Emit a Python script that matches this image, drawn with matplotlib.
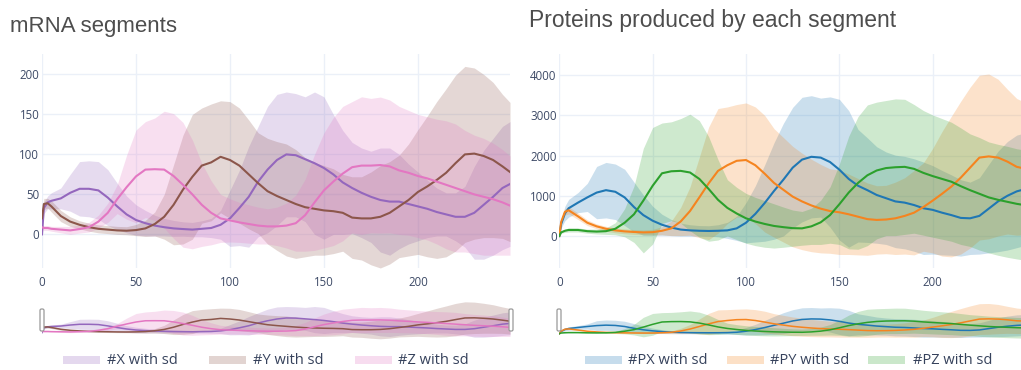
import numpy as np
import matplotlib.pyplot as plt
from matplotlib.patches import FancyBboxPatch, Rectangle

W, H = 1021, 370

# time points
t = [0, 1, 3] + list(range(5, 250, 5)) + [249]

# mRNA segments: mean and standard deviation
x_mean = [0, 33, 40, 42, 45, 52, 57, 57, 55, 46, 35, 25, 18, 14, 11, 9, 7.5, 6.7, 6, 7, 8, 12, 20,
          33, 47, 66, 81, 93, 100, 99, 94, 89, 83, 75, 65, 58, 52, 47, 43, 41, 41, 38, 35, 32, 28,
          25, 22, 22, 27, 37, 47, 58, 63]
x_sd = [0, 7, 8, 10, 13, 23, 34, 35, 36, 35, 29, 23, 19, 16, 13, 11, 10, 9, 9, 10, 12, 18, 35,
        47, 63, 69, 79, 82, 78, 77, 78, 89, 89, 75, 65, 57, 56, 57, 65, 67, 59, 50, 43, 36, 30,
        27, 30, 38, 58, 68, 73, 77, 78]
y_mean = [20, 38, 39, 35, 23, 16, 12, 9, 7, 6, 5, 4.6, 5.4, 7.5, 13, 22, 37, 56, 72, 86, 90, 97, 93,
          86, 75, 64, 54, 48, 43, 38, 34, 32, 30, 29, 27, 21, 20, 20, 22, 27, 35, 43, 53, 60, 68,
          77, 89, 100, 101, 98, 93, 85, 78]
y_sd = [5, 7, 6, 7, 7, 6, 5, 5, 5, 5, 5, 5, 7, 10, 15, 28, 50, 68, 78, 72, 73, 70, 73,
        72, 68, 63, 66, 68, 70, 68, 62, 58, 56, 53, 48, 51, 52, 58, 64, 64, 64, 70, 78, 88, 98,
        105, 110, 110, 107, 102, 97, 90, 87]
z_mean = [9, 8, 8, 7, 6, 5, 6.7, 9, 16, 27, 44, 59, 72.5, 81, 81.5, 81, 73, 62, 50, 37, 27, 20, 17.5,
          15, 13, 11, 10, 10, 11, 14, 24, 40, 55, 66, 76, 84, 86, 86, 86.7, 85, 80, 77, 73, 70, 66,
          62, 58, 54, 50, 47, 44, 40, 36]
z_sd = [3, 3, 3, 3, 4, 5, 5, 6, 8, 12, 18, 40, 58, 60, 64, 73, 78, 78, 68, 52, 40, 30, 27,
        25, 24, 23, 22, 24, 28, 35, 45, 60, 72, 80, 84, 82, 86, 84, 85, 83, 80, 78, 77, 77, 78,
        80, 80, 76, 74, 73, 70, 66, 62]

# proteins: mean and standard deviation
px_mean = [0, 300, 560, 690, 830, 960, 1080, 1140, 1100, 960, 720, 520, 380, 280, 210, 160, 140, 130,
           125, 130, 140, 190, 330, 550, 820, 1120, 1400, 1700, 1900, 1970, 1950, 1840, 1650, 1420,
           1250, 1140, 1020, 940, 860, 830, 770, 690, 650, 580, 520, 450, 440, 500, 680, 860, 1000,
           1110, 1160]
px_sd = [0, 100, 180, 220, 250, 350, 650, 690, 690, 700, 620, 500, 360, 260, 200, 160, 140, 130,
         130, 150, 200, 300, 500, 700, 950, 1200, 1400, 1500, 1550, 1520, 1480, 1620, 1750, 1700,
         1400, 1300, 1200, 1150, 1150, 1150, 1150, 1150, 1100, 1050, 1000, 950, 900, 950, 1100,
         1250, 1350, 1400, 1400]
py_mean = [0, 350, 600, 640, 490, 330, 240, 180, 140, 115, 100, 90, 95, 130, 190, 360, 620, 960,
           1310, 1620, 1760, 1870, 1890, 1760, 1550, 1320, 1150, 980, 860, 760, 680, 620, 590, 540,
           480, 420, 400, 410, 440, 500, 580, 720, 880, 1050, 1230, 1450, 1700, 1950, 1980, 1950,
           1850, 1720, 1680]
py_sd = [0, 50, 80, 90, 80, 70, 60, 60, 60, 60, 60, 60, 70, 100, 180, 350, 600, 1000, 1400, 1550,
         1450, 1400, 1420, 1450, 1450, 1350, 1300, 1250, 1200, 1150, 1100, 1050, 1050, 1000, 950,
         900, 850, 850, 900, 950, 1050, 1100, 1300, 1550, 1750, 1900, 2000, 2050, 2050, 1950, 1800,
         1700, 1650]
pz_mean = [0, 90, 130, 150, 150, 120, 110, 120, 180, 330, 540, 880, 1250, 1560, 1610, 1620, 1580,
           1420, 1170, 900, 700, 560, 440, 360, 300, 250, 220, 195, 190, 240, 340, 520, 790, 1080,
           1320, 1510, 1630, 1690, 1710, 1720, 1670, 1570, 1490, 1420, 1350, 1240, 1140, 1050, 960,
           900, 850, 800, 770]
pz_sd = [0, 20, 40, 50, 50, 50, 60, 80, 150, 350, 700, 1300, 1450, 1250, 1230, 1300, 1450, 1450,
         1300, 1000, 700, 650, 620, 600, 580, 550, 500, 450, 420, 450, 550, 700, 1000, 1400, 1650,
         1750, 1700, 1680, 1700, 1680, 1600, 1550, 1520, 1500, 1480, 1450, 1400, 1400, 1380, 1380,
         1380, 1370, 1370]

mrna = [(x_mean, x_sd, '#9467bd', '#X with sd'),
        (y_mean, y_sd, '#8c564b', '#Y with sd'),
        (z_mean, z_sd, '#e377c2', '#Z with sd')]
prot = [(px_mean, px_sd, '#1f77b4', '#PX with sd'),
        (py_mean, py_sd, '#f5841f', '#PY with sd'),
        (pz_mean, pz_sd, '#2ca02c', '#PZ with sd')]

TICK = '#3d4a66'
GRID = '#ebf0f8'
FILL_ALPHA = 0.23

fig = plt.figure(figsize=(W / 100, H / 100), dpi=100)
fig.patch.set_facecolor('white')


def add_ax(x0, y0, x1, y1):
    # pixel box (top-left origin) -> figure axes
    return fig.add_axes([x0 / W, 1 - y1 / H, (x1 - x0) / W, (y1 - y0) / H])


def draw(ax, series, lw):
    for mean, sd, col, _ in series:
        m, s = np.array(mean), np.array(sd)
        ax.fill_between(t, m - s, m + s, color=col, alpha=FILL_ALPHA, lw=0)
    for mean, sd, col, _ in series:
        ax.plot(t, mean, color=col, lw=lw, solid_joinstyle='round')
    for sp in ax.spines.values():
        sp.set_visible(False)
    ax.set_xlim(0, 249)


def main_panel(box, series, ylim, yticks):
    ax = add_ax(*box)
    draw(ax, series, 1.5)
    ax.set_ylim(*ylim)
    ax.set_xticks([0, 50, 100, 150, 200])
    ax.set_yticks(yticks)
    ax.grid(color=GRID, lw=1.0)
    ax.set_axisbelow(True)
    ax.tick_params(length=0, labelsize=8.3, labelcolor=TICK)
    ax.tick_params(axis='y', pad=2)
    ax.tick_params(axis='x', pad=6)
    for lab in ax.get_xticklabels() + ax.get_yticklabels():
        lab.set_fontfamily('Open Sans')
    return ax


def slider(box, series, ylim, handles):
    ax = add_ax(*box)
    draw(ax, series, 1.1)
    ax.set_ylim(*ylim)
    ax.set_xticks([])
    ax.set_yticks([])
    ax.patch.set_alpha(0)
    for hx in handles:
        fig.add_artist(FancyBboxPatch(((hx - 2) / 100, (H - 331) / 100), 0.04, 0.22,
                                      boxstyle='round,pad=0,rounding_size=0.015',
                                      transform=fig.dpi_scale_trans, fc='white',
                                      ec='#9a9a9a', lw=0.9, zorder=5))


def legend(items, series):
    for (sx, tx), (_, _, col, label) in zip(items, series):
        fig.add_artist(Rectangle((sx / 100, (H - 364) / 100), 0.37, 0.08,
                                 transform=fig.dpi_scale_trans, fc=col,
                                 alpha=FILL_ALPHA + 0.02, lw=0))
        fig.text(tx / W, 1 - 364 / H, label, fontsize=10.5, color='#36425c',
                 family='Open Sans', va='baseline', ha='left')


main_panel((42, 54, 510, 268), mrna, (-42, 225.5), [0, 50, 100, 150, 200])
main_panel((559.3, 54, 1024.2, 268), prot, (-796, 4527), [0, 1000, 2000, 3000, 4000])

slider((42, 298, 510, 340), mrna, (-50, 236), [42, 511])
slider((559.3, 298, 1024.2, 340), prot, (-840, 4760), [559])

legend([(63, 107), (209, 253), (355, 398)], mrna)
legend([(585, 628), (727, 770), (868, 913)], prot)

fig.text(10 / W, 1 - 31.7 / H, 'mRNA segments', fontsize=16, color='#4d4d4d',
         family='Liberation Sans', va='baseline')
fig.text(529 / W, 1 - 27.3 / H, 'Proteins produced by each segment', fontsize=16.5,
         color='#4d4d4d', family='Liberation Sans', va='baseline')

fig.savefig('out.png', dpi=100)
